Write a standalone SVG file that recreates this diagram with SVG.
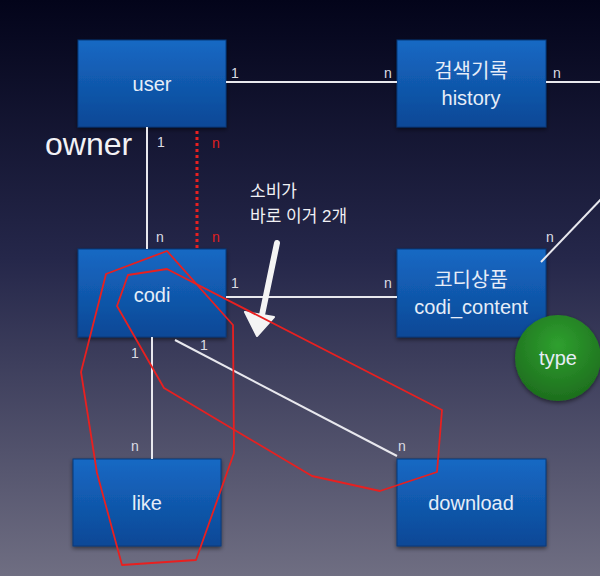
<svg xmlns="http://www.w3.org/2000/svg" width="600" height="576" viewBox="0 0 600 576">
<defs>
<linearGradient id="bg" x1="0" y1="0" x2="0" y2="1">
<stop offset="0" stop-color="#03041a"/>
<stop offset="0.45" stop-color="#25274a"/>
<stop offset="1" stop-color="#6f6e82"/>
</linearGradient>
<linearGradient id="box" x1="0" y1="0" x2="0" y2="1">
<stop offset="0" stop-color="#1669c4"/>
<stop offset="1" stop-color="#0c4896"/>
</linearGradient>
<radialGradient id="grn" cx="0.5" cy="0.35" r="0.7">
<stop offset="0" stop-color="#2fa02f"/>
<stop offset="1" stop-color="#1c6a1c"/>
</radialGradient>
<filter id="sh" x="-10%" y="-10%" width="120%" height="130%">
<feDropShadow dx="0" dy="2" stdDeviation="2" flood-color="#000" flood-opacity="0.5"/>
</filter>
<style>
.box{fill:url(#box);stroke:#0a3a7a;stroke-width:1;filter:url(#sh)}
.t{font-family:"Liberation Sans","Noto Sans CJK KR",sans-serif;font-size:20px;fill:#e6edf8;text-anchor:middle}
.lb{font-family:"Liberation Sans",sans-serif;font-size:14px;fill:#dcdce4}
.rl{font-family:"Liberation Sans",sans-serif;font-size:14px;fill:#e02020}
.ln{stroke:#e8e8ee;stroke-width:2;fill:none}
.red{stroke:#e82020;stroke-width:1.8;fill:none;stroke-linejoin:round}
</style>
</defs>
<rect x="0" y="0" width="600" height="576" fill="url(#bg)"/>
<text x="45" y="155" font-family="'Liberation Sans',sans-serif" font-size="32" fill="#f2f2f6">owner</text>
<g id="user"><rect class="box" x="78" y="40" width="148" height="87"/><text class="t" x="152" y="91">user</text></g>
<g id="history"><rect class="box" x="397" y="40" width="149" height="87"/><text class="t" x="471" y="78">검색기록</text><text class="t" x="471" y="105">history</text></g>
<g id="codi"><rect class="box" x="78" y="249" width="148" height="88"/><text class="t" x="152" y="302">codi</text></g>
<g id="codi_content"><rect class="box" x="397" y="249" width="149" height="88"/><text class="t" x="471" y="287">코디상품</text><text class="t" x="471" y="314">codi_content</text></g>
<g id="like"><rect class="box" x="73" y="459" width="148" height="87"/><text class="t" x="147" y="510">like</text></g>
<g id="download"><rect class="box" x="397" y="459" width="149" height="87"/><text class="t" x="471" y="510">download</text></g>
<g id="type"><circle cx="558" cy="358" r="43" fill="url(#grn)" filter="url(#sh)"/><text class="t" x="558" y="365">type</text></g>
<g id="connectors">
<line class="ln" x1="226" y1="82" x2="397" y2="82"/>
<line class="ln" x1="546" y1="82" x2="600" y2="82"/>
<line class="ln" x1="147" y1="127" x2="147" y2="249"/>
<line x1="197" y1="131" x2="197" y2="249" stroke="#e82020" stroke-width="3" stroke-dasharray="3,3"/>
<line class="ln" x1="226" y1="297" x2="397" y2="297"/>
<line class="ln" x1="541" y1="262" x2="604" y2="196"/>
<line class="ln" x1="152" y1="337" x2="152" y2="459"/>
<line class="ln" x1="175" y1="340" x2="397" y2="456"/>
<text class="lb" x="231" y="78">1</text>
<text class="lb" x="384" y="78">n</text>
<text class="lb" x="553" y="78">n</text>
<text class="lb" x="157" y="147">1</text>
<text class="lb" x="156" y="242">n</text>
<text class="rl" x="212" y="148">n</text>
<text class="rl" x="212" y="242">n</text>
<text class="lb" x="231" y="288">1</text>
<text class="lb" x="384" y="288">n</text>
<text class="lb" x="546" y="242">n</text>
<text class="lb" x="131" y="358">1</text>
<text class="lb" x="200" y="350">1</text>
<text class="lb" x="131" y="451">n</text>
<text class="lb" x="398" y="451">n</text>
</g>
<g id="note">
<text x="250" y="197" font-family="'Liberation Sans','Noto Sans CJK KR',sans-serif" font-size="17" fill="#f0f0f4">소비가</text>
<text x="250" y="222" font-family="'Liberation Sans','Noto Sans CJK KR',sans-serif" font-size="17" fill="#f0f0f4">바로 이거 2개</text>
<line x1="277" y1="243" x2="262" y2="315" stroke="#f4f4f4" stroke-width="6" stroke-linecap="round"/>
<polygon points="245,312 274,317 257,336" fill="#f4f4f4" stroke="#f4f4f4" stroke-width="2" stroke-linejoin="round"/>
</g>
<g id="highlights">
<polygon class="red" points="167,251 106,274 81,372 97,473 122,565 196,560 234,453 233,325"/>
<polygon class="red" points="128,275 167,269 442,410 437,472 380,491 312,476 164,388 117,306"/>
</g>
</svg>
